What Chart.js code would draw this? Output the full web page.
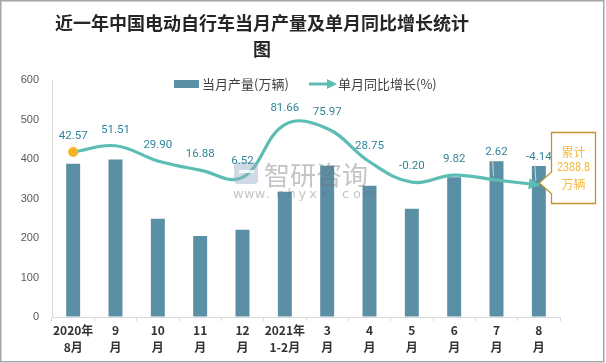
<!DOCTYPE html>
<html><head><meta charset="utf-8">
<script src="https://cdn.jsdelivr.net/npm/chart.js@4/dist/chart.umd.min.js"></script>
<style>html,body{margin:0;padding:0;background:#fff}#wrap{width:606px;height:363px;position:relative}</style>
</head><body><div id="wrap"><canvas id="c" width="606" height="363"></canvas></div>
<script>
// ---- data ----
const categories = [['2020年','8月'],['9','月'],['10','月'],['11','月'],['12','月'],['2021年','1-2月'],['3','月'],['4','月'],['5','月'],['6','月'],['7','月'],['8','月']];
const production = [388, 399, 249, 205, 221, 317, 383, 332, 274, 354, 394, 382];
const growth = [42.57, 51.51, 29.90, 16.88, 6.52, 81.66, 75.97, 28.75, -0.20, 9.82, 2.62, -4.14];
const growthLabels = ['42.57','51.51','29.90','16.88','6.52','81.66','75.97','28.75','-0.20','9.82','2.62','-4.14'];
const yTicks = [0, 100, 200, 300, 400, 500, 600];
const titleLines = ['近一年中国电动自行车当月产量及单月同比增长统计', '图'];
const legendNames = ['当月产量(万辆)', '单月同比增长(%)'];
const cumulativeNote = ['累计', '2388.8', '万辆'];

const BAR = '#5B8FA6', LINE = '#5CBDB3', DOT = '#F6B424';
const CJK = "'Noto Sans CJK SC', 'Noto Sans', sans-serif";

const decor = {
  id: 'decor',
  afterDatasetsDraw(chart) {
    const ctx = chart.ctx;
    const meta = chart.getDatasetMeta(0);
    const pts = meta.data;
    // arrow head at end of line
    const last = pts[pts.length - 1];
    const ang = Math.atan2(last.y - last.cp1y, last.x - last.cp1x);
    ctx.save();
    ctx.fillStyle = LINE;
    ctx.translate(last.x, last.y);
    ctx.rotate(ang);
    ctx.beginPath();
    ctx.moveTo(1, 0); ctx.lineTo(-10, -5.5); ctx.lineTo(-10, 5.5); ctx.closePath();
    ctx.fill();
    ctx.restore();
    // first point dot (on top)
    ctx.save();
    ctx.fillStyle = DOT;
    ctx.beginPath(); ctx.arc(pts[0].x, pts[0].y, 5, 0, Math.PI * 2); ctx.fill();
    ctx.restore();

    // watermark
    ctx.save();
    ctx.fillStyle = 'rgba(110,115,120,0.42)';
    ctx.font = "26px " + CJK;
    ctx.textBaseline = 'middle';
    ctx.textAlign = 'left';
    ctx.fillText('智研咨询', 264, 175);
    ctx.font = "13px 'DejaVu Sans', sans-serif";
    const w = 'www.chyxx.com';
    for (let i = 0; i < w.length; i++) ctx.fillText(w[i], 233 + i * 10.9, 195);
    ctx.fillStyle = 'rgba(150,170,200,0.45)';
    ctx.beginPath();
    ctx.roundRect(234, 162, 24, 22, 4);
    ctx.fill();
    ctx.fillStyle = 'rgba(255,255,255,0.8)';
    ctx.fillRect(239, 170, 15, 3);
    ctx.restore();

    // data labels
    ctx.save();
    ctx.font = "11.5px Roboto, 'Noto Sans', sans-serif";
    ctx.textAlign = 'center';
    ctx.textBaseline = 'middle';
    pts.forEach((p, i) => {
      const lift = (i >= 10) ? 28 : 16;
      if (i >= 10) {
        ctx.strokeStyle = 'rgba(220,220,220,0.9)';
        ctx.lineWidth = 1;
        ctx.beginPath(); ctx.moveTo(p.x - 4, p.y - lift + 7); ctx.lineTo(p.x - 3, p.y - 4); ctx.stroke();
      }
      ctx.fillStyle = '#31849B';
      ctx.fillText(growthLabels[i], p.x, p.y - lift);
    });
    ctx.restore();

    // cumulative callout
    const tx = last.x + 0.5, ty = last.y - 2;
    ctx.save();
    ctx.beginPath();
    ctx.moveTo(551.5, 132.5); ctx.lineTo(595.5, 132.5); ctx.lineTo(595.5, 203.5); ctx.lineTo(551.5, 203.5);
    ctx.lineTo(551.5, ty + 11); ctx.lineTo(tx, ty); ctx.lineTo(551.5, ty - 11); ctx.closePath();
    ctx.fillStyle = '#fff'; ctx.fill();
    ctx.strokeStyle = '#BF9431'; ctx.lineWidth = 1.3; ctx.stroke();
    ctx.fillStyle = '#F5BA42';
    ctx.font = "12px " + CJK;
    ctx.textAlign = 'center'; ctx.textBaseline = 'middle';
    ctx.fillText(cumulativeNote[0], 573.5, 152);
    ctx.font = "12.5px Roboto, 'Noto Sans', sans-serif";
    ctx.fillText(cumulativeNote[1], 573.5, 168, 33);
    ctx.font = "12px " + CJK;
    ctx.fillText(cumulativeNote[2], 573.5, 184);
    ctx.restore();
  },
  afterDraw(chart) {
    const ctx = chart.ctx;
    ctx.save();
    // title
    ctx.fillStyle = '#262626';
    ctx.font = "bold 18px " + CJK;
    ctx.textAlign = 'center'; ctx.textBaseline = 'middle';
    ctx.fillText(titleLines[0], 262, 23);
    ctx.fillText(titleLines[1], 262, 49);
    // legend
    ctx.fillStyle = BAR;
    ctx.fillRect(174, 80, 25, 8);
    ctx.fillStyle = '#404040';
    ctx.font = "13px " + CJK;
    ctx.textAlign = 'left';
    ctx.fillText(legendNames[0], 202, 84);
    ctx.strokeStyle = LINE; ctx.lineWidth = 3;
    ctx.beginPath(); ctx.moveTo(309, 84); ctx.lineTo(328, 84); ctx.stroke();
    ctx.fillStyle = LINE;
    ctx.beginPath(); ctx.moveTo(337, 84); ctx.lineTo(327, 79); ctx.lineTo(327, 89); ctx.closePath(); ctx.fill();
    ctx.fillStyle = '#404040';
    ctx.fillText(legendNames[1], 338, 84);
    // outer border
    ctx.strokeStyle = '#A6A6A6'; ctx.lineWidth = 1.5;
    ctx.strokeRect(0.75, 0.75, 603, 361);
    ctx.restore();
  }
};

new Chart(document.getElementById('c'), {
  data: {
    labels: categories,
    datasets: [
      {
        type: 'line', label: legendNames[1], data: growth, yAxisID: 'y2', order: 0,
        borderColor: LINE, borderWidth: 3.2, tension: 0.4, pointRadius: 0, fill: false
      },
      {
        type: 'bar', label: legendNames[0], data: production, yAxisID: 'y', order: 1,
        backgroundColor: BAR, barPercentage: 0.33, categoryPercentage: 1
      }
    ]
  },
  options: {
    responsive: false, animation: false, devicePixelRatio: 1,
    layout: { padding: { top: 80, right: 46, bottom: 0, left: 0 } },
    plugins: { legend: { display: false }, title: { display: false }, tooltip: { enabled: false } },
    scales: {
      x: {
        grid: { drawOnChartArea: false, drawTicks: true, tickLength: 4, color: '#D9D9D9' },
        border: { color: '#D9D9D9', width: 1 },
        ticks: { color: '#333333', font: { family: "'Noto Sans CJK SC', 'Liberation Sans', sans-serif", size: 12, weight: 'bold', lineHeight: 1.4 }, padding: 1, maxRotation: 0, autoSkip: false },
        afterFit: s => { s.height = 46; }
      },
      y: {
        position: 'left', min: 0, max: 600,
        afterBuildTicks: s => { s.ticks = yTicks.map(v => ({ value: v })); },
        grid: { drawOnChartArea: false, drawTicks: false },
        border: { color: '#D9D9D9', width: 1 },
        ticks: { color: '#595959', font: { family: "'Liberation Sans', sans-serif", size: 11 }, padding: 13 },
        afterFit: s => { s.width = 52; }
      },
      y2: { display: false, position: 'right', min: -192, max: 145 }
    }
  },
  plugins: [decor]
});
</script>
</body></html>
